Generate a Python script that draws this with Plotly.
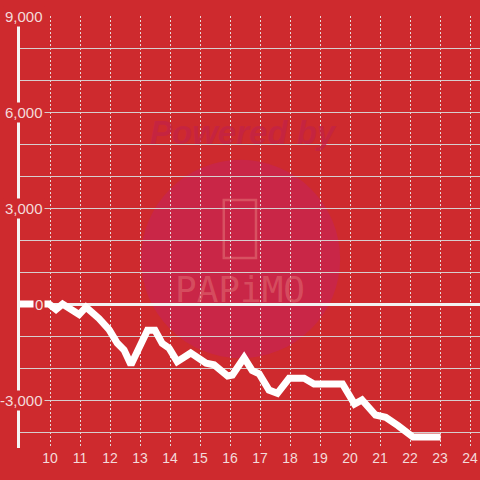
import plotly.graph_objects as go

# Data (hour of day vs cumulative value)
hours = [9.0, 9.97, 10.2, 10.42, 10.97, 11.2, 11.63, 11.97, 12.24, 12.47, 12.7,
         13.25, 13.5, 13.74, 13.97, 14.24, 14.69, 14.92, 15.2, 15.47, 15.92, 16.08,
         16.47, 16.74, 16.97, 17.3, 17.58, 17.97, 18.47, 18.8, 19.75, 20.15, 20.4,
         20.85, 21.19, 21.6, 21.88, 22.1, 23.02]
values = [0, 0, -170, 0, -330, -100, -450, -800, -1220, -1440, -1900,
          -820, -820, -1230, -1380, -1800, -1530, -1650, -1850, -1900, -2250, -2220,
          -1680, -2080, -2180, -2690, -2790, -2320, -2320, -2500, -2500, -3130, -3000,
          -3470, -3540, -3800, -4010, -4160, -4160]

x_ticks = list(range(10, 25))
x_tick_labels = [str(v) for v in x_ticks]
y_ticks = [9000, 6000, 3000, 0, -3000]
y_tick_labels = ["9,000", "6,000", "3,000", "0", "-3,000"]

BG = "#CE2A2E"
LABEL = "#F4DADA"
FONT = "Liberation Sans, Arial, sans-serif"

fig = go.Figure()
fig.add_trace(go.Scatter(
    x=hours, y=values, mode="lines",
    line=dict(color="#FFFFFF", width=7, shape="linear"),
    hoverinfo="skip", showlegend=False,
))

annotations = []
for v, t in zip(y_ticks, y_tick_labels):
    annotations.append(dict(
        xref="paper", yref="y", x=0.055, y=v, text=t, showarrow=False,
        xanchor="right", yanchor="middle", bgcolor=BG, borderpad=1,
        font=dict(family=FONT, size=15, color=LABEL),
    ))

# watermark
annotations.append(dict(
    xref="paper", yref="paper", x=0.485, y=0.731, text="<b><i>Powered by</i></b>",
    xanchor="center", yanchor="middle",
    showarrow=False, font=dict(family=FONT, size=33, color="rgba(195,35,70,0.75)"),
))
annotations.append(dict(
    xref="paper", yref="paper", x=0.478, y=0.366, text="PAPiMO",
    xanchor="center", yanchor="middle",
    showarrow=False, font=dict(family="DejaVu Sans Mono", size=36, color="rgba(225,110,115,0.55)"),
))

shapes = [
    dict(type="circle", xref="paper", yref="paper", layer="below",
         x0=0.263, x1=0.696, y0=0.208, y1=0.667,
         fillcolor="rgba(200,38,75,0.85)", line=dict(width=0)),
    dict(type="rect", xref="paper", yref="paper", layer="below",
         x0=0.443, x1=0.513, y0=0.44, y1=0.574,
         fillcolor="rgba(0,0,0,0)", line=dict(color="rgba(225,110,115,0.6)", width=2.5)),
]

fig.update_layout(
    width=480, height=480,
    margin=dict(l=20, r=0, t=16, b=32),
    paper_bgcolor=BG, plot_bgcolor=BG,
    showlegend=False,
    annotations=annotations,
    shapes=shapes,
    xaxis=dict(
        range=[9, 24.333], tickmode="array", tickvals=x_ticks, ticktext=x_tick_labels,
        showgrid=True, gridcolor="rgba(235,235,235,0.9)", gridwidth=1, griddash="2px,2px",
        zeroline=False, showline=False, ticks="",
        tickfont=dict(family=FONT, size=14, color=LABEL),
        fixedrange=True,
    ),
    yaxis=dict(
        range=[-4500, 9000], tickmode="linear", tick0=0, dtick=1000,
        showticklabels=False, showgrid=True, gridcolor="rgba(215,215,215,0.95)", gridwidth=1,
        zeroline=True, zerolinecolor="#F2F2F2", zerolinewidth=3,
        showline=True, linecolor="#F5F5F5", linewidth=3, ticks="",
        fixedrange=True,
    ),
)

fig.write_html("out.html", config={"displayModeBar": False},
               post_script="document.body.style.margin='0';document.body.style.padding='0';")
